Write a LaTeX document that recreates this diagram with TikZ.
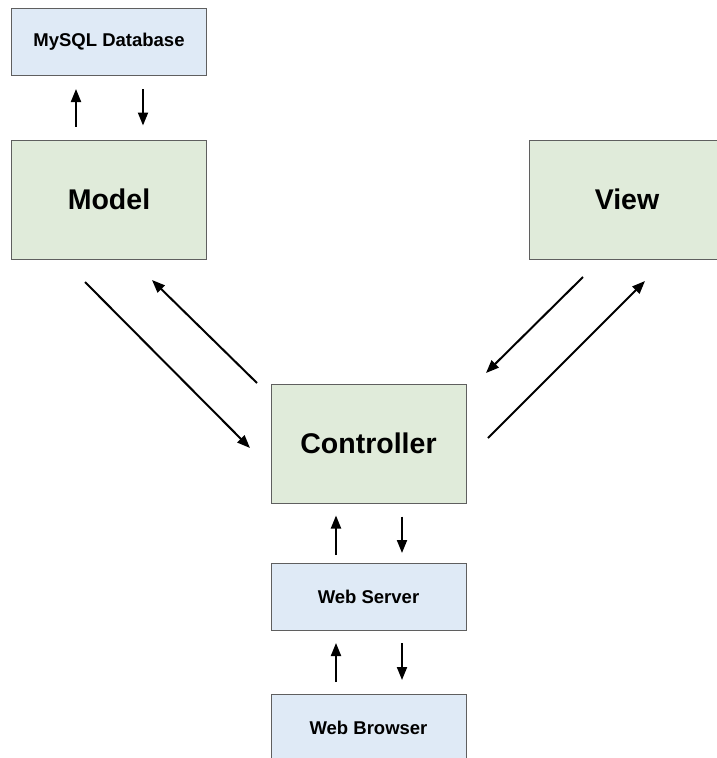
\documentclass[tikz,border=0pt]{standalone}
\usepackage{fontspec}
\setmainfont{Liberation Sans}
\usepackage{xcolor}
\usepackage{tikz}
\usetikzlibrary{arrows.meta, positioning, calc}
\definecolor{layerbg}{HTML}{E0EBDA}
\definecolor{infrabg}{HTML}{DFEAF6}
\definecolor{boxframe}{HTML}{5F5F5F}

\begin{document}
\begin{tikzpicture}[
    x=1pt, y=-1pt,
    infra/.style={
        rectangle, fill=infrabg, draw=boxframe, line width=1pt,
        minimum width=195pt, minimum height=67pt, inner sep=0pt,
        font=\fontsize{18.5}{22}\selectfont\bfseries,
    },
    layer/.style={
        rectangle, fill=layerbg, draw=boxframe, line width=1pt,
        minimum width=195pt, minimum height=119pt, inner sep=0pt,
        font=\fontsize{28.5}{34}\selectfont\bfseries,
    },
    flow/.style={
        line width=2pt, -{Triangle[length=13pt,width=10pt]},
    },
]

\useasboundingbox (0,0) rectangle (716,758);

% ── Boxes ──────────────────────────────────────────────────────────────────
\node[infra] (db)      at (109, 42)    {MySQL Database};
\node[layer] (model)   at (109, 199.5) {Model};
\node[layer] (view)    at (627, 199.5) {View};
\node[layer] (ctrl)    at (368.5, 443.5) {Controller};
\node[infra] (server)  at (368.5, 597) {Web Server};
\node[infra] (browser) at (368.5, 728) {Web Browser};

% ── Vertical pairs ─────────────────────────────────────────────────────────
\draw[flow, shorten <=13pt, shorten >=13pt]
    ([xshift=-33pt]model.north) -- ([xshift=-33pt]db.south);
\draw[flow, shorten <=13pt, shorten >=14pt]
    ([xshift=34pt]db.south) -- ([xshift=34pt]model.north);

\draw[flow, shorten <=8pt, shorten >=12pt]
    ([xshift=-32.5pt]server.north) -- ([xshift=-32.5pt]ctrl.south);
\draw[flow, shorten <=13pt, shorten >=10pt]
    ([xshift=33.5pt]ctrl.south) -- ([xshift=33.5pt]server.north);

\draw[flow, shorten <=12pt, shorten >=12pt]
    ([xshift=-32.5pt]browser.north) -- ([xshift=-32.5pt]server.south);
\draw[flow, shorten <=12pt, shorten >=14pt]
    ([xshift=33.5pt]server.south) -- ([xshift=33.5pt]browser.north);

% ── Diagonal pairs ─────────────────────────────────────────────────────────
\coordinate (m2c) at (85, 282);
\coordinate (c2m) at (257, 383);
\coordinate (v2c) at (583, 277);
\coordinate (c2v) at (488, 438);

\draw[flow] (m2c) -- (250, 448);
\draw[flow] (c2m) -- (152, 280);
\draw[flow] (v2c) -- (486, 373);
\draw[flow] (c2v) -- (645, 281);

\end{tikzpicture}
\end{document}
